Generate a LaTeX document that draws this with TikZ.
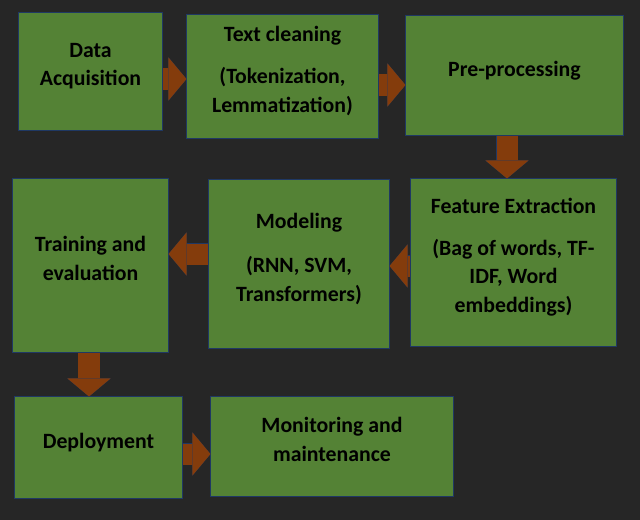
\documentclass[tikz,border=0pt]{standalone}
\usepackage{fontspec}
\setmainfont{Carlito}
\usepackage{xcolor}
\usetikzlibrary{arrows.meta, positioning}

\definecolor{canvas}{HTML}{262626}
\definecolor{stagefill}{HTML}{548235}
\definecolor{stageedge}{HTML}{1F3864}
\definecolor{flowfill}{HTML}{843C0C}

\begin{document}
\begin{tikzpicture}[
    x=0.025cm, y=-0.025cm,
    stage/.style={rectangle, draw=stageedge, fill=stagefill, line width=0.7pt, align=center, inner sep=2pt, font=\fontsize{15.5}{20.5}\selectfont\bfseries, execute at end node={\rule[-10pt]{0pt}{10pt}}},
    tip/.style={-{Triangle[length=0.45cm 0, width=1.075cm 0, line width=#1 0, color=stageedge, fill=flowfill]}},
    flow/.style={draw=flowfill, line width=0.525cm, tip=0pt, preaction={draw=stageedge, line width=0.525cm+1.2pt, tip=1.2pt}}
]

% Background
\fill[canvas] (0,0) rectangle (640,520);

% Top row
\node[stage, minimum width=3.575cm, minimum height=2.925cm] (acquisition) at (90.5,71.5) {Data\\Acquisition};
\node[stage, minimum width=4.775cm, minimum height=3.075cm] (cleaning) at (282.5,76.5) {Text cleaning\\[9pt](Tokenization,\\Lemmatization)};
\node[stage, minimum width=5.425cm, minimum height=2.975cm] (preprocessing) at (514.5,75.5) {Pre-processing};

% Middle row
\node[stage, minimum width=5.125cm, minimum height=4.175cm] (extraction) at (513.5,262.5) {Feature Extraction\\[9pt](Bag of words, TF-\\IDF, Word\\embeddings)};
\node[stage, minimum width=4.5cm, minimum height=4.2cm] (modeling) at (299,264) {Modeling\\[11pt](RNN, SVM,\\Transformers)};
\node[stage, minimum width=3.875cm, minimum height=4.325cm] (training) at (90.5,265.5) {Training and\\evaluation};

% Bottom row
\node[stage, minimum width=4.175cm, minimum height=2.525cm] (deployment) at (98.5,447.5) {Deployment};
\node[stage, minimum width=6.05cm, minimum height=2.475cm] (monitoring) at (332,446.5) {Monitoring and\\maintenance};

% Block arrows
\draw[flow] (acquisition.east |- 0,79) -- (cleaning.west |- 0,79);
\draw[flow] (cleaning.east |- 0,85) -- (preprocessing.west |- 0,85);
\draw[flow] (preprocessing.south -| 507,0) -- (extraction.north -| 507,0);
\draw[flow] (extraction.west |- 0,266) -- (modeling.east |- 0,266);
\draw[flow] (modeling.west |- 0,254) -- (training.east |- 0,254);
\draw[flow] (training.south -| 89,0) -- (deployment.north -| 89,0);
\draw[flow] (deployment.east |- 0,454) -- (monitoring.west |- 0,454);

\end{tikzpicture}
\end{document}
